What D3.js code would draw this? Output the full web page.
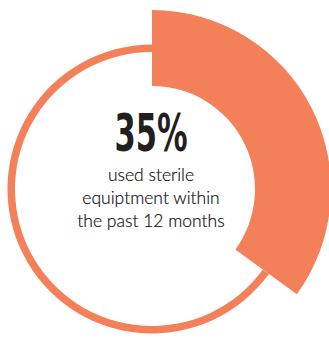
<!DOCTYPE html>
<html><head><meta charset="utf-8">
<script src="https://cdn.jsdelivr.net/npm/d3@7"></script>
<style>html,body{margin:0;padding:0;background:#fff;overflow:hidden}</style>
</head><body>
<script>
const categories = ["used sterile equipment", "did not"];
const values = [35, 65];
const headline = "35%";
const captionLines = ["used sterile", "equiptment within", "the past 12 months"];

const W = 329, H = 338;
const cx = 152, cy = 189;
const color = "#F4805A";

const svg = d3.select("body").append("svg").attr("width", W).attr("height", H);
const g = svg.append("g").attr("transform", `translate(${cx},${cy})`);

const pie = d3.pie().sort(null).value(d => d);
const arcs = pie(values);

const radii = [
  {inner: 103, outer: 179},
  {inner: 137, outer: 144.5}
];

g.selectAll("path.slice").data(arcs).join("path")
  .attr("class", "slice")
  .attr("fill", color)
  .attr("d", (d, i) => d3.arc().innerRadius(radii[i].inner).outerRadius(radii[i].outer)(d));

g.append("text")
  .attr("x", -1).attr("y", -38)
  .attr("text-anchor", "middle")
  .attr("font-family", "'Liberation Sans Narrow', 'DejaVu Sans Condensed', sans-serif")
  .attr("font-weight", "bold")
  .attr("font-size", 51)
  .attr("fill", "#231f20")
  .attr("textLength", 73)
  .attr("lengthAdjust", "spacingAndGlyphs")
  .text(headline);

g.selectAll("text.cap").data(captionLines).join("text")
  .attr("class", "cap")
  .attr("x", -1)
  .attr("y", (d, i) => -8 + i * 23)
  .attr("text-anchor", "middle")
  .attr("font-family", "Lato, sans-serif")
  .attr("font-weight", 300)
  .attr("font-size", 17.5)
  .attr("fill", "#111")
  .attr("stroke", "#111")
  .attr("stroke-width", 0.2)
  .text(d => d);
</script>
</body></html>
